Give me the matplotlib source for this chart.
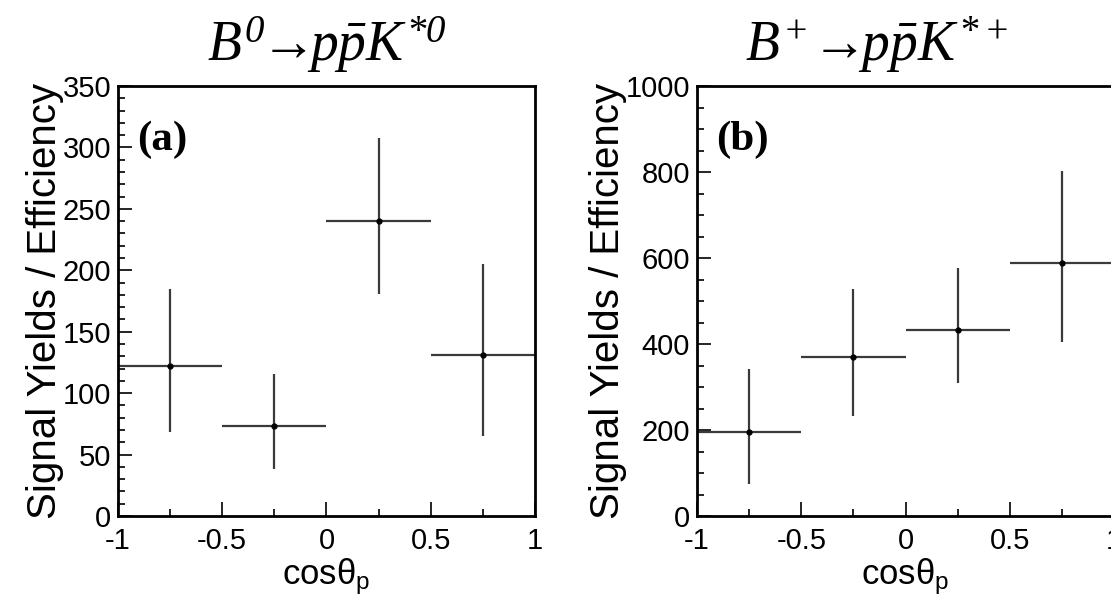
import numpy as np
import matplotlib
matplotlib.use("Agg")
import matplotlib.pyplot as plt
from matplotlib.ticker import MultipleLocator

plt.rcParams['font.family'] = ['Liberation Sans', 'DejaVu Sans']
plt.rcParams['mathtext.fontset'] = 'custom'
# titles are all italic serif, digits included
plt.rcParams['mathtext.rm'] = 'Liberation Serif:italic'
plt.rcParams['mathtext.it'] = 'Liberation Serif:italic'
plt.rcParams['mathtext.bf'] = 'Liberation Serif:bold'
plt.rcParams['mathtext.sf'] = 'Liberation Sans'

# bin centres and half widths in cos(theta_p)
x_centres = [-0.75, -0.25, 0.25, 0.75]
x_halfwidth = [0.25, 0.25, 0.25, 0.25]

# (a) B0 -> p pbar K*0
yield_a = [122, 73, 240, 131]
err_lo_a = [54, 35, 59, 66]
err_hi_a = [63, 43, 68, 74]

# (b) B+ -> p pbar K*+
yield_b = [196, 369, 432, 588]
err_lo_b = [121, 136, 122, 184]
err_hi_b = [147, 158, 144, 215]

titles = [r'$B^{0}\!\!\rightarrow\!\! p\bar{p}K^{*0}$',
          r'$B^{+}\!\rightarrow\!\! p\bar{p}K^{*+}$']
title_x = [0.5, 0.43]
panel_tags = ['(a)', '(b)']

fig = plt.figure(figsize=(11.11, 6.08), dpi=100)
ax_a = fig.add_axes([0.1062, 0.1513, 0.3753, 0.7072])
ax_b = fig.add_axes([0.6274, 0.1513, 0.3753, 0.7072])


def draw(ax, y, lo, hi, ymax, major, minor, title, tx, tag):
    ax.errorbar(x_centres, y, xerr=x_halfwidth, yerr=[lo, hi], fmt='o',
                color='black', ecolor='#3a3a3a', elinewidth=1.6, capsize=0,
                markersize=3.5)
    ax.set_xlim(-1, 1)
    ax.set_ylim(0, ymax)
    ax.xaxis.set_minor_locator(MultipleLocator(0.25))
    ax.yaxis.set_major_locator(MultipleLocator(major))
    ax.yaxis.set_minor_locator(MultipleLocator(minor))
    ax.set_xticks([-1, -0.5, 0, 0.5, 1])
    ax.set_xticklabels(['-1', '-0.5', '0', '0.5', '1'])
    ax.tick_params(which='both', direction='in', top=False, right=False,
                   labelsize=21, width=1.2)
    ax.tick_params(axis='x', which='major', length=10, pad=8)
    ax.tick_params(axis='y', which='major', length=10, pad=5)
    ax.tick_params(which='minor', length=5)
    for s in ax.spines.values():
        s.set_linewidth(2)
    ax.set_xlabel('cosθ' + r'$_{\mathsf{p}}$', fontsize=25, labelpad=1)
    ax.set_ylabel('Signal Yields / Efficiency', fontsize=29, labelpad=-1)
    ax.set_title(title, fontsize=40, pad=18, x=tx)
    ax.text(0.045, 0.92, tag, transform=ax.transAxes, ha='left', va='top',
            fontsize=31, fontweight='bold', family='Liberation Serif')


draw(ax_a, yield_a, err_lo_a, err_hi_a, 350, 50, 10, titles[0], title_x[0], panel_tags[0])
draw(ax_b, yield_b, err_lo_b, err_hi_b, 1000, 200, 50, titles[1], title_x[1], panel_tags[1])

fig.savefig('out.png', dpi=100)
